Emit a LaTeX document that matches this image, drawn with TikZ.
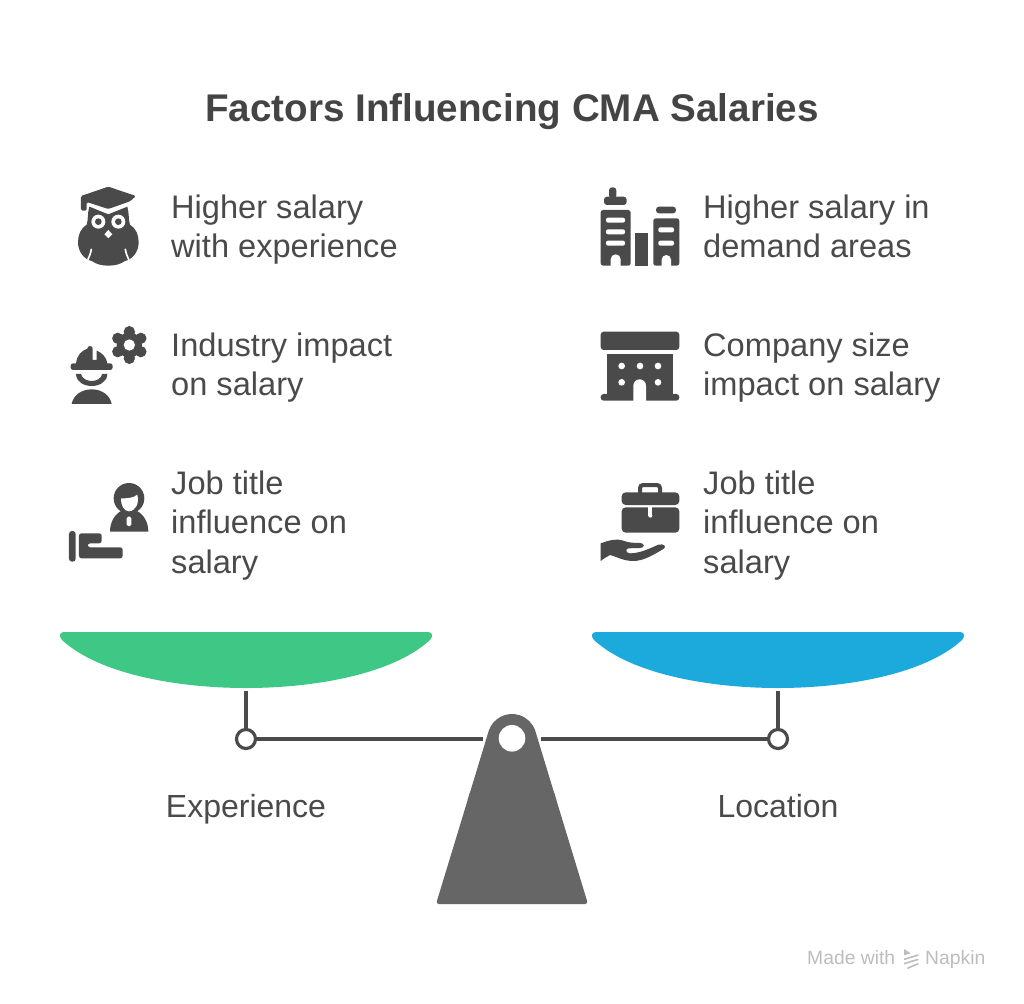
\documentclass[tikz,border=0pt]{standalone}
\usepackage{fontspec}
\setmainfont{Liberation Sans}
\definecolor{ink}{HTML}{4A4A4A}
\definecolor{txt}{HTML}{4A4A4A}
\definecolor{ttl}{HTML}{444444}
\definecolor{pangreen}{HTML}{3EC785}
\definecolor{panblue}{HTML}{1CA9DC}
\definecolor{fulcrumgrey}{HTML}{666666}
\definecolor{creditgrey}{HTML}{BDBDBD}
\tikzset{
  lbl/.style={anchor=base west,align=left,inner sep=0pt,text=txt,font=\fontsize{32.6}{39.3}\selectfont},
  scalecap/.style={anchor=base,inner sep=0pt,text=txt,font=\fontsize{32}{38}\selectfont},
  joint/.style={circle,draw=ink,line width=3.2pt,fill=white,minimum size=19pt,inner sep=0pt},
  rod/.style={draw=ink,line width=3.2pt},
  ico/.style={fill=ink,draw=none},
  cut/.style={fill=white,draw=none},
  cutline/.style={draw=white,line cap=round},
  zoomed/.style={x=0.3333pt,y=-0.3333pt}
}
\begin{document}
\begin{tikzpicture}[x=1pt,y=-1pt]
\path[use as bounding box,fill=white] (0,0) rectangle (1024,1003);
% title
\node[anchor=base,inner sep=0pt,text=ttl,font=\fontsize{38.6}{44}\selectfont\bfseries] (title) at (512,122) {Factors Influencing CMA Salaries};
% labels (base anchor = last line)
\node[lbl] (a) at (171,257.5) {Higher salary\\with experience};
\node[lbl] (b) at (703,257.5) {Higher salary in\\demand areas};
\node[lbl] (c) at (171,395.5) {Industry impact\\on salary};
\node[lbl] (d) at (703,395.5) {Company size\\impact on salary};
\node[lbl] (e) at (171,573) {Job title\\influence on\\salary};
\node[lbl] (f) at (703,573) {Job title\\influence on\\salary};
% owl
\begin{scope}[shift={(50,170)},zoomed]
\fill[ico,rounded corners=1.5pt] (175,50) -- (258,78) -- (240,94) -- (175,117) -- (110,96) -- (110,122) -- (93,122) -- (93,78) -- cycle;
\fill[ico] (118,110) -- (175,133) -- (232,110) .. controls (238,130) and (235,150) .. (240,164) .. controls (258,175) and (266,195) .. (266,217) .. controls (266,245) and (248,268) .. (225,273) .. controls (210,283) and (195,287) .. (175,287) .. controls (155,287) and (140,283) .. (125,273) .. controls (102,268) and (84,245) .. (84,217) .. controls (84,195) and (92,175) .. (110,164) .. controls (115,150) and (112,130) .. (118,110) -- cycle;
\fill[cut] (145,155) circle (21);
\fill[cut] (205,155) circle (21);
\fill[ico] (145,155) circle (10);
\fill[ico] (205,155) circle (10);
\fill[cut] (175,180) -- (187,193) -- (175,205) -- (163,193) -- cycle;
\draw[cutline,line width=1.7pt] (124,238) .. controls (122,250) and (118,260) .. (114,268);
\draw[cutline,line width=1.7pt] (226,238) .. controls (228,250) and (232,260) .. (236,268);
\end{scope}
% worker and gear
\begin{scope}[shift={(50,310)},zoomed]
\fill[ico] (78,162) .. controls (80,135) and (95,122) .. (112,116) arc (180:360:8) -- (128,150) -- (140,150) -- (140,122) .. controls (155,128) and (170,140) .. (172,162) -- cycle;
\fill[ico,rounded corners=2.5pt] (62,160) rectangle (188,180);
\fill[ico] (78,192) -- (93,192) .. controls (100,220) and (150,220) .. (157,192) -- (172,192) .. controls (170,240) and (80,240) .. (78,192) -- cycle;
\fill[ico] (65,282) .. controls (70,255) and (95,238) .. (125,238) .. controls (155,238) and (180,255) .. (185,282) -- cycle;
\fill[ico] (238,105) circle (38);
\foreach \ang in {90,30,-30,-90,-150,150}{\fill[ico] (238,105) ++(\ang:40) circle (17);}
\fill[cut] (238,105) circle (17);
\end{scope}
% person on hand
\begin{scope}[shift={(50,470)},zoomed]
\fill[ico] (237,85) circle (46);
\fill[cut] (213,85) .. controls (230,85) and (250,85) .. (262,74) .. controls (268,100) and (258,122) .. (237,124) .. controls (222,124) and (212,105) .. (213,85) -- cycle;
\fill[ico] (180,185) .. controls (180,155) and (195,132) .. (215,122) .. controls (228,132) and (246,132) .. (259,122) .. controls (280,132) and (295,155) .. (295,185) -- cycle;
\fill[cut,rounded corners=1.5pt] (230,140) rectangle (244,168);
\fill[ico,rounded corners=3pt] (57,183) rectangle (77,275);
\fill[ico,rounded corners=2.5pt] (87,190) -- (155,190) -- (155,220) -- (113,220) -- (113,232) -- (218,232) -- (218,265) -- (87,265) -- cycle;
\end{scope}
% buildings
\begin{scope}[shift={(590,175)},zoomed]
\fill[ico,rounded corners=2.5pt] (32,105) rectangle (122,272);
\fill[ico,rounded corners=3pt] (42,65) rectangle (110,90);
\fill[ico,rounded corners=3pt] (57,37) rectangle (79,70);
\fill[cut,rounded corners=2pt] (48,128) rectangle (105,143);
\fill[cut,rounded corners=2pt] (48,163) rectangle (105,178);
\fill[cut,rounded corners=2pt] (48,197) rectangle (105,212);
\fill[cut] (62,273) -- (62,253) arc (180:360:15) -- (92,273) -- cycle;
\fill[ico] (135,175) rectangle (175,272);
\fill[ico,rounded corners=2.5pt] (190,130) rectangle (268,272);
\fill[cut] (215,273) -- (215,254) arc (180:360:14) -- (243,273) -- cycle;
\fill[ico,rounded corners=3pt] (198,95) rectangle (258,115);
\fill[cut,rounded corners=2pt] (205,157) rectangle (252,172);
\fill[cut,rounded corners=2pt] (205,197) rectangle (252,212);
\end{scope}
% company
\begin{scope}[shift={(590,320)},zoomed]
\fill[ico,rounded corners=3pt] (32,35) rectangle (268,90);
\fill[ico] (52,103) rectangle (248,230);
\fill[ico,rounded corners=3pt] (32,222) rectangle (268,242);
\fill[cut] (130,243) -- (130,197) arc (180:360:19) -- (168,243) -- cycle;
\foreach \px/\py in {95/138,150/138,204/138,95/187,204/187}{\fill[cut] (\px,\py) circle (10);}
\end{scope}
% briefcase on hand
\begin{scope}[shift={(590,475)},zoomed]
\draw[ink,line width=4pt,rounded corners=3pt] (150,54) -- (150,30) -- (210,30) -- (210,54);
\fill[ico,rounded corners=4pt] (95,90) -- (95,52) -- (268,52) -- (268,90) -- cycle;
\fill[ico,rounded corners=4pt] (95,97) -- (268,97) -- (268,173) -- (95,173) -- cycle;
\fill[cut] (175,92) rectangle (187,122);
\fill[cut] (181,122) circle (6);
\fill[ico] (32,205) .. controls (60,195) and (80,190) .. (100,197) .. controls (115,203) and (130,204) .. (150,204) .. controls (165,204) and (165,219) .. (150,219) -- (115,220) .. controls (105,222) and (108,235) .. (120,235) .. controls (150,235) and (180,220) .. (205,209) .. controls (222,205) and (232,215) .. (220,222) .. controls (190,240) and (160,258) .. (130,258) .. controls (100,258) and (80,245) .. (60,240) .. controls (50,245) and (40,252) .. (32,258) -- cycle;
\end{scope}
% pans
\fill[pangreen] (64,632) -- (428,632) .. controls (433,632) and (433,637) .. (430,640) .. controls (392,675) and (312,688) .. (246,688) .. controls (180,688) and (100,675) .. (62,640) .. controls (59,637) and (59,632) .. (64,632) -- cycle;
\fill[panblue] (596,632) -- (960,632) .. controls (965,632) and (965,637) .. (962,640) .. controls (924,675) and (844,688) .. (778,688) .. controls (712,688) and (632,675) .. (594,640) .. controls (591,637) and (591,632) .. (596,632) -- cycle;
% beam
\coordinate (panL) at (246,691);
\coordinate (panR) at (778,691);
\coordinate (beamL) at (482.5,739);
\coordinate (beamR) at (541,739);
\node[joint] (jointL) at (246,739) {};
\node[joint] (jointR) at (778,739) {};
\draw[rod] (panL) -- (jointL);
\draw[rod] (panR) -- (jointR);
\draw[rod] (jointL) -- (beamL);
\draw[rod] (jointR) -- (beamR);
% fulcrum
\fill[fulcrumgrey,rounded corners=3pt] (436,904) -- (470.7,790) -- (553.3,790) -- (588,904) -- cycle;
\fill[fulcrumgrey] (467.7,800) -- (488.7,730.9) arc (198:342:24.5) -- (556.3,800) -- cycle;
\fill[white] (512,738.3) circle (13.3);
\node[scalecap] (xp) at (246,817) {Experience};
\node[scalecap] (loc) at (778,817) {Location};
% credit
\node[anchor=base west,inner sep=0pt,text=creditgrey,font=\fontsize{19.3}{23}\selectfont] (made) at (807,964) {Made with};
\node[anchor=base west,inner sep=0pt,text=creditgrey,font=\fontsize{19.3}{23}\selectfont] (nap) at (925,964) {Napkin};
\begin{scope}[shift={(790,930)},zoomed]
\fill[creditgrey] (342,57) -- (362,70) -- (342,76) -- cycle;
\draw[creditgrey,line width=1.6pt] (342,88) -- (385,75);
\draw[creditgrey,line width=1.6pt] (342,101) -- (385,88);
\draw[creditgrey,line width=1.6pt] (352,115) -- (385,101);
\end{scope}
\end{tikzpicture}
\end{document}
